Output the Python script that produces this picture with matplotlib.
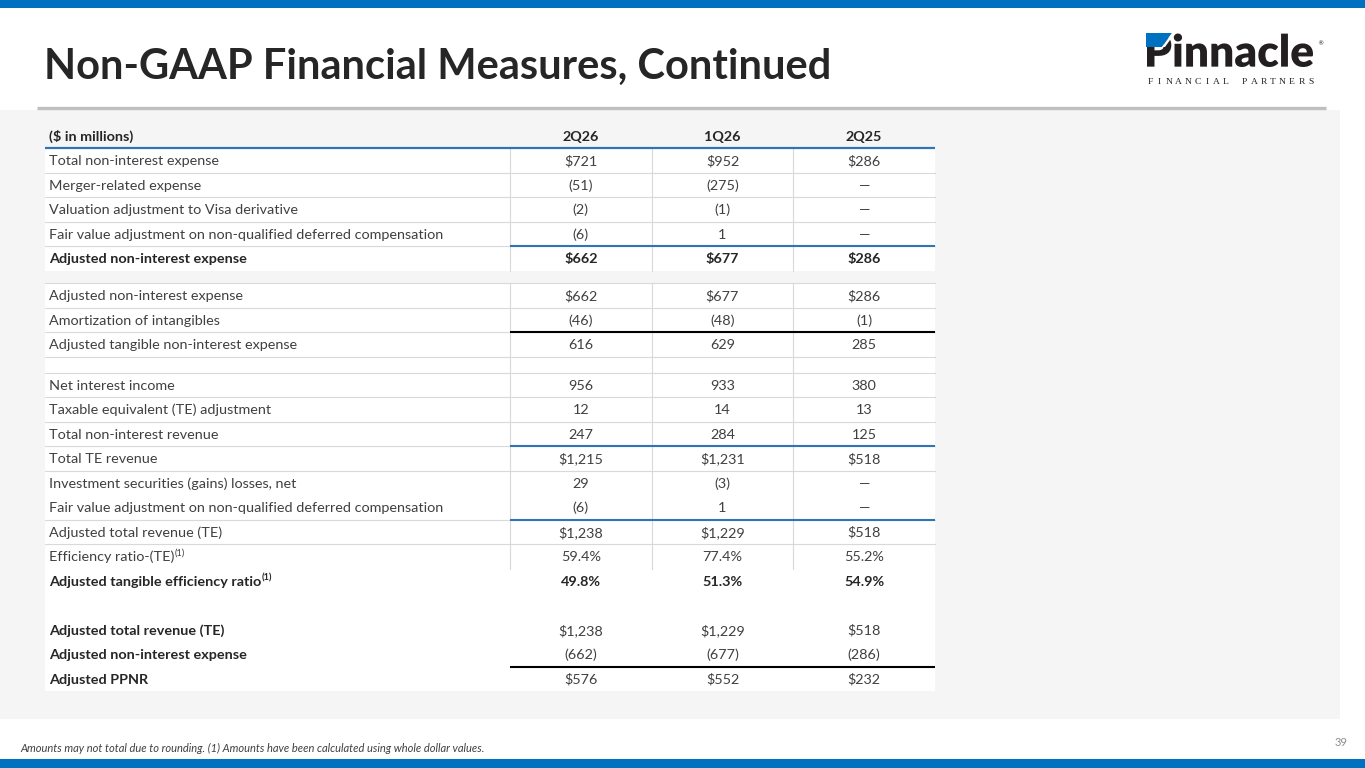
import matplotlib
matplotlib.use("Agg")
import matplotlib.pyplot as plt
from matplotlib.patches import Rectangle, Polygon, PathPatch
from matplotlib.textpath import TextPath
from matplotlib.font_manager import FontProperties
from matplotlib.transforms import Affine2D

# ---- data ----
title = "Non-GAAP Financial Measures, Continued"
unit_label = "($ in millions)"
periods = ["2Q26", "1Q26", "2Q25"]

labels = [
    "Total non-interest expense",
    "Merger-related expense",
    "Valuation adjustment to Visa derivative",
    "Fair value adjustment on non-qualified deferred compensation",
    "Adjusted non-interest expense",
    "Adjusted non-interest expense",
    "Amortization of intangibles",
    "Adjusted tangible non-interest expense",
    "",
    "Net interest income",
    "Taxable equivalent (TE) adjustment",
    "Total non-interest revenue",
    "Total TE revenue",
    "Investment securities (gains) losses, net",
    "Fair value adjustment on non-qualified deferred compensation",
    "Adjusted total revenue (TE)",
    "Efficiency ratio-(TE)",
    "Adjusted tangible efficiency ratio",
    "",
    "Adjusted total revenue (TE)",
    "Adjusted non-interest expense",
    "Adjusted PPNR",
]
q2_26 = ["$721", "(51)", "(2)", "(6)", "$662",
         "$662", "(46)", "616", "",
         "956", "12", "247", "$1,215", "29", "(6)", "$1,238", "59.4%",
         "49.8%", "", "$1,238", "(662)", "$576"]
q1_26 = ["$952", "(275)", "(1)", "1", "$677",
         "$677", "(48)", "629", "",
         "933", "14", "284", "$1,231", "(3)", "1", "$1,229", "77.4%",
         "51.3%", "", "$1,229", "(677)", "$552"]
q2_25 = ["$286", "\u2014", "\u2014", "\u2014", "$286",
         "$286", "(1)", "285", "",
         "380", "13", "125", "$518", "\u2014", "\u2014", "$518", "55.2%",
         "54.9%", "", "$518", "(286)", "$232"]
footnote = ("Amounts may not total due to rounding. (1) Amounts have been "
            "calculated using whole dollar values.")
page_no = "39"

# ---- layout / styles ----
BAR_BLUE = "#0070C0"
RULE_BLUE = "#2E75B6"
TXT = "#404040"
GRID = "#D9D9D9"
PANEL = "#F5F5F5"
FONT = "Lato"
FS = 10.4

row_h = [24.5] * 8 + [16] + [24.5] * 13
bold_label = {4, 17, 19, 20, 21}
bold_value = {4, 17}
superscript = {16, 17}
grid_rows = range(0, 17)
no_sep = {14}
rules = {4: RULE_BLUE, 7: "black", 12: RULE_BLUE, 15: RULE_BLUE, 21: "black"}

x_left, x_mid, x_right = 45, 510, 935
col_edges = [x_mid + i * (x_right - x_mid) / 3 for i in range(4)]
col_centers = [(col_edges[i] + col_edges[i + 1]) / 2 for i in range(3)]

fig = plt.figure(figsize=(13.65, 7.68), dpi=100)
ax = fig.add_axes([0, 0, 1, 1])
ax.set_xlim(0, 1365)
ax.set_ylim(768, 0)
ax.axis("off")

# page furniture
ax.add_patch(Rectangle((0, 0), 1365, 8, color=BAR_BLUE, lw=0))
ax.add_patch(Rectangle((0, 759), 1365, 9, color=BAR_BLUE, lw=0))
ax.add_patch(Rectangle((0, 110), 1340, 609, color=PANEL, lw=0))
ax.plot([37, 1326], [108, 108], color="#BFBFBF", lw=2.4, solid_capstyle="butt")
ax.text(44, 79, title, fontsize=30, fontweight="bold", family=FONT,
        color="#262626", va="baseline", ha="left")

# logo
fp = FontProperties(family=FONT, weight="heavy")
tp = TextPath((0, 0), "Pinnacle", size=1, prop=fp)
ext = tp.get_extents()
tr = (Affine2D().translate(-ext.x0, -ext.y0)
      .scale((1313 - 1147) / ext.width, -(67 - 33.5) / ext.height)
      .translate(1147, 67))
ax.add_patch(PathPatch(tr.transform_path(tp), color="#231F20", lw=0))
ax.add_patch(Polygon([(1146, 33), (1172, 33), (1162, 47), (1146, 47)],
                     color=BAR_BLUE, lw=0))
ax.add_patch(Polygon([(1162, 47), (1172, 33), (1175, 33), (1165, 47)],
                     color="white", lw=0))
ax.text(1317, 44, "\u00ae", fontsize=4.5, color="#231F20", ha="left",
        va="center", family="DejaVu Sans")
tag = "FINANCIAL PARTNERS"
step = (1311 - 1150) / (len(tag) - 1)
for i, ch in enumerate(tag):
    if ch != " ":
        ax.text(1150 + i * step, 84, ch, fontsize=6.8, family="Liberation Serif",
                color="#231F20", ha="center", va="baseline")

# row geometry
tops = []
y = 148
for i, h in enumerate(row_h):
    if i == 5:
        y += 12.5
    tops.append(y)
    y += h
bottoms = [t + h for t, h in zip(tops, row_h)]

# white table backgrounds
ax.add_patch(Rectangle((x_left, tops[0]), x_right - x_left, bottoms[4] - tops[0],
                       color="white", lw=0))
ax.add_patch(Rectangle((x_left, tops[5]), x_right - x_left, bottoms[-1] - tops[5],
                       color="white", lw=0))

# gridlines
for i in grid_rows:
    if i == 0 or i in no_sep:
        continue
    ax.plot([x_left, x_right], [tops[i], tops[i]], color=GRID, lw=0.8)
for xe in col_edges[:3]:
    ax.plot([xe, xe], [tops[0], bottoms[4]], color=GRID, lw=0.8)
    ax.plot([xe, xe], [tops[5], bottoms[16]], color=GRID, lw=0.8)
for i, c in rules.items():
    ax.plot([x_mid, x_right], [tops[i], tops[i]], color=c, lw=1.5,
            solid_capstyle="butt")

# header
ax.plot([x_left, x_right], [148, 148], color=RULE_BLUE, lw=1.6,
        solid_capstyle="butt")
ax.text(49, 141, unit_label, fontsize=FS, fontweight="bold", family=FONT,
        color="#262626", va="baseline")
for xc, p in zip(col_centers, periods):
    ax.text(xc, 141, p, fontsize=FS, fontweight="bold", family=FONT,
            color="#262626", va="baseline", ha="center")

# body
fig.canvas.draw()
renderer = fig.canvas.get_renderer()
inv = ax.transData.inverted()
for i, lab in enumerate(labels):
    base = (tops[i] + bottoms[i]) / 2 + 5
    wl = "bold" if i in bold_label else "normal"
    col = "#262626" if i in bold_label else TXT
    if lab:
        t = ax.text(49, base, lab, fontsize=FS, fontweight=wl, family=FONT,
                    color=col, va="baseline")
        if i in superscript:
            bb = t.get_window_extent(renderer)
            xe = inv.transform((bb.x1, bb.y0))[0]
            ax.text(xe + 0.5, base - 5.5, "(1)", fontsize=6.6, fontweight=wl,
                    family=FONT, color=col, va="baseline")
    wv = "bold" if i in bold_value else "normal"
    for xc, v in zip(col_centers, (q2_26[i], q1_26[i], q2_25[i])):
        if v:
            ax.text(xc, base, v, fontsize=FS, fontweight=wv, family=FONT,
                    color=col if i in bold_value else TXT,
                    va="baseline", ha="center")

# footer
ax.text(20, 752, footnote, fontsize=8, style="italic", family=FONT,
        color=TXT, va="baseline")
ax.text(1341, 746, page_no, fontsize=8, family=FONT, color="#8C8C8C",
        ha="center", va="baseline")

fig.savefig("out.png", dpi=100)
